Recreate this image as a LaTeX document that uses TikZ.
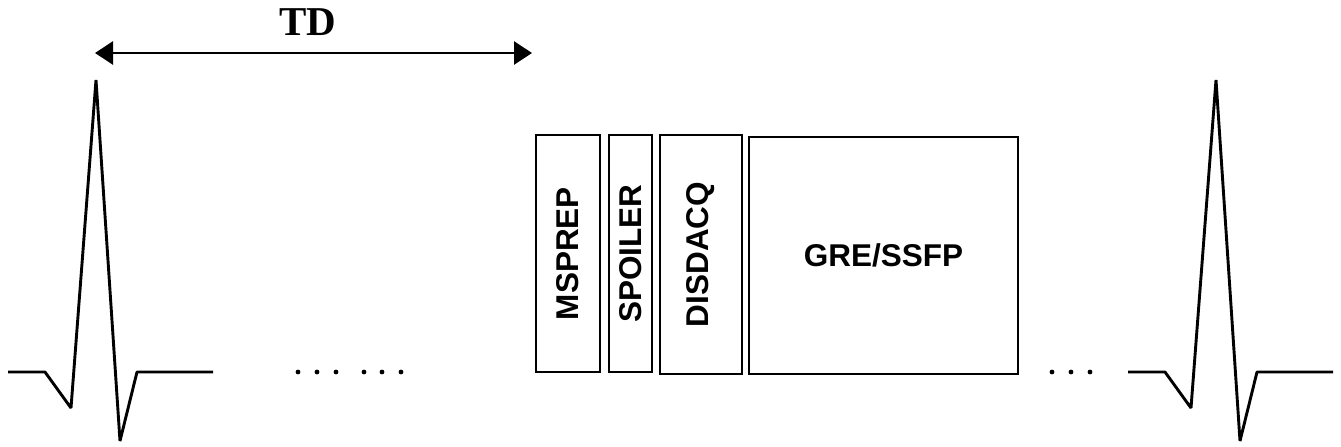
\documentclass[tikz,border=0pt]{standalone}
\usepackage{fontspec}
\setmainfont{Liberation Serif}
\newfontfamily\arialfont{Liberation Sans}
\usetikzlibrary{arrows.meta}

\tikzset{
  wave/.style={line width=2.9pt, line join=bevel},
  seqbox/.style={draw, line width=2.9pt, rectangle, inner sep=0pt,
    font=\arialfont\bfseries\fontsize{31.5}{36}\selectfont},
  span/.style={line width=2.6pt, {Triangle[length=18pt,width=23pt]}-{Triangle[length=18pt,width=23pt]}},
  dot/.style={fill=black},
}

\begin{document}
\begin{tikzpicture}[x=1pt,y=-1pt]
\useasboundingbox (0,0) rectangle (1341,447);

% trigger delay
\coordinate (tdL) at (95,53);
\coordinate (tdR) at (532,53);
\draw[span] (tdL) -- (tdR);
\node[font=\bfseries\fontsize{41}{46}\selectfont] (tdlabel) at (308,22) {TD};

% first R wave
\draw[wave] (8,372) -- (45,372) -- (71,408) -- (96,80) -- (120,441) -- (137,372) -- (213,372);

% dots after first beat
\foreach \x in {298,317,336,364,382,401}
  \fill[dot] (\x,372) circle (2.4pt);

% sequence blocks
\node[seqbox, minimum width=64pt, minimum height=237pt] (msprep) at (568,253.5) {\rotatebox{90}{MSPREP}};
\node[seqbox, minimum width=43pt, minimum height=237pt] (spoiler) at (630.5,253.5) {\rotatebox{90}{SPOILER}};
\node[seqbox, minimum width=82pt, minimum height=239pt] (disdacq) at (701,254.5) {\rotatebox{90}{DISDACQ}};
\node[seqbox, minimum width=269pt, minimum height=237pt] (gre) at (883.5,255.5) {GRE/SSFP};

% dots before next beat
\foreach \x in {1052,1071,1090}
  \fill[dot] (\x,372) circle (2.4pt);

% next R wave
\draw[wave] (1128,372) -- (1165,372) -- (1191,408) -- (1216,80) -- (1240,441) -- (1257,372) -- (1333,372);
\end{tikzpicture}
\end{document}
